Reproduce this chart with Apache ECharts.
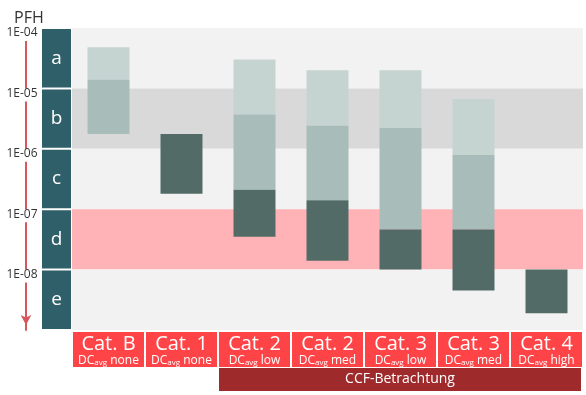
<!DOCTYPE html>
<html><head><meta charset="utf-8">
<script src="https://cdn.jsdelivr.net/npm/echarts@6/dist/echarts.min.js"></script>
<style>html,body{margin:0;padding:0;background:#fff}#c{width:586px;height:395px}</style>
</head><body><div id="c"></div>
<script>
// ---- data ----
const categories = ['Cat. B', 'Cat. 1', 'Cat. 2', 'Cat. 2', 'Cat. 3', 'Cat. 3', 'Cat. 4'];
const dcLevels = ['none', 'none', 'low', 'med', 'low', 'med', 'high'];
// light (upper) segment
const lightHigh = [4.8e-5, null, 3.0e-5, 2.0e-5, 2.0e-5, 6.7e-6, null];
const lightLow  = [1.4e-5, null, 3.7e-6, 2.4e-6, 2.2e-6, 8.0e-7, null];
// middle segment (from lightLow down to midLow)
const midLow    = [1.75e-6, null, 2.1e-7, 1.4e-7, 4.6e-8, 4.6e-8, null];
// dark (lower) segment
const darkHigh  = [null, 1.75e-6, 2.1e-7, 1.4e-7, 4.6e-8, 4.6e-8, 1.0e-8];
const darkLow   = [null, 1.8e-7, 3.5e-8, 1.4e-8, 1.0e-8, 4.5e-9, 1.9e-9];

const bandLetters = ['a', 'b', 'c', 'd', 'e'];
const bandHigh = [1e-4, 1e-5, 1e-6, 1e-7, 1e-8];
const bandLow  = [1e-5, 1e-6, 1e-7, 1e-8, 1e-9];
const bandColors = ['#f2f2f2', '#d9d9d9', '#f2f2f2', '#ffb3b6', '#f2f2f2'];

const tickValues = [1e-4, 1e-5, 1e-6, 1e-7, 1e-8];
const tickLabels = ['1E-04', '1E-05', '1E-06', '1E-07', '1E-08'];

const groupLabel = 'CCF-Betrachtung';
const groupStart = 2, groupEnd = 6;

// ---- styles ----
const FONT = '"Open Sans", "DejaVu Sans", sans-serif';
const shadeColors = ['#c5d4d1', '#a8bcb9', '#526b66'];

const segData = [];
categories.forEach((c, i) => {
  if (lightHigh[i] != null) segData.push([i, lightHigh[i], lightLow[i], 0]);
  if (midLow[i] != null) segData.push([i, lightLow[i], midLow[i], 1]);
  if (darkHigh[i] != null) segData.push([i, darkHigh[i], darkLow[i], 2]);
});

const chart = echarts.init(document.getElementById('c'), null, {renderer: 'canvas'});
const yLog = {type: 'log', logBase: 10, min: 1e-9, max: 1e-4};

chart.setOption({
  animation: false,
  title: {text: 'PFH', left: 9, top: 5, textStyle: {fontSize: 16, fontWeight: 'normal', color: '#333', fontFamily: FONT}},
  grid: [
    {left: 42, width: 29, top: 28, bottom: 65},
    {left: 72, right: 3, top: 28, bottom: 65}
  ],
  xAxis: [
    {gridIndex: 0, type: 'value', min: 0, max: 1, show: false},
    {gridIndex: 1, type: 'category', data: categories,
      axisLine: {show: false}, axisTick: {show: false}, splitLine: {show: false},
      axisLabel: {
        interval: 0, margin: 2, width: 71, height: 34, padding: [1, 0, 0, 0],
        backgroundColor: '#ff4447', align: 'center', verticalAlign: 'top',
        formatter: (v, i) => `{big|${v}}\n{dc|DC}{sub|avg}{dc| ${dcLevels[i]}}`,
        rich: {
          big: {fontSize: 20, lineHeight: 22, color: '#fff', fontFamily: FONT, align: 'center'},
          dc: {fontSize: 12, lineHeight: 12, color: '#fff', fontFamily: FONT},
          sub: {fontSize: 8, lineHeight: 8, color: '#fff', fontFamily: FONT, verticalAlign: 'bottom'}
        }
      }
    }
  ],
  yAxis: [
    Object.assign({gridIndex: 0, offset: 16,
      axisLine: {show: true, onZero: false, symbol: ['arrow', 'none'], symbolSize: [8, 10], symbolOffset: [5, 0],
        lineStyle: {color: '#d6585c', width: 2}},
      axisTick: {show: false}, splitLine: {show: false},
      axisLabel: {
        showMinLabel: false, margin: 4, align: 'center', verticalAlign: 'top',
        lineHeight: 10, padding: [0, 2, 3, 2], backgroundColor: '#fff',
        fontSize: 12, color: '#333', fontFamily: FONT,
        formatter: v => {
          const k = tickValues.findIndex(t => Math.abs(Math.log10(t) - Math.log10(v)) < 1e-6);
          return k >= 0 ? tickLabels[k] : '';
        }
      }}, yLog),
    Object.assign({gridIndex: 1, show: false, splitLine: {show: false}}, yLog)
  ],
  series: [
    { // letter boxes
      type: 'custom', xAxisIndex: 0, yAxisIndex: 0, silent: true,
      encode: {x: 0, y: [1, 2]},
      data: bandHigh.map((h, i) => [0.5, h, bandLow[i], i]),
      renderItem: (params, api) => {
        const cs = params.coordSys;
        const p0 = api.coord([0.5, api.value(1)]);
        const p1 = api.coord([0.5, api.value(2)]);
        const i = api.value(3);
        return {type: 'group', children: [
          {type: 'rect', shape: {x: cs.x, y: p0[1] + 1, width: cs.width, height: p1[1] - p0[1] - 2},
            style: {fill: '#2f5f68'}},
          {type: 'text', x: cs.x + cs.width / 2, y: (p0[1] + p1[1]) / 2,
            style: {text: bandLetters[i], fill: '#fff', font: '19px ' + FONT, align: 'center', verticalAlign: 'middle'}}
        ]};
      }
    },
    { // background bands
      type: 'custom', xAxisIndex: 1, yAxisIndex: 1, silent: true, z: 1,
      encode: {x: 0, y: [1, 2]},
      data: bandHigh.map((h, i) => [0, h, bandLow[i], i]),
      renderItem: (params, api) => {
        const cs = params.coordSys;
        const p0 = api.coord([0, api.value(1)]);
        const p1 = api.coord([0, api.value(2)]);
        return {type: 'rect', shape: {x: cs.x, y: p0[1], width: cs.width, height: p1[1] - p0[1]},
          style: {fill: bandColors[api.value(3)]}};
      }
    },
    { // range bars
      type: 'custom', xAxisIndex: 1, yAxisIndex: 1, z: 3,
      encode: {x: 0, y: [1, 2]},
      data: segData,
      renderItem: (params, api) => {
        const a = api.coord([api.value(0), api.value(1)]);
        const b = api.coord([api.value(0), api.value(2)]);
        const w = api.size([1, 0])[0] * 0.575;
        return {type: 'rect', shape: {x: a[0] - w / 2, y: a[1], width: w, height: b[1] - a[1]},
          style: {fill: shadeColors[api.value(3)]}};
      }
    },
    { // CCF group bar
      type: 'custom', xAxisIndex: 1, yAxisIndex: 1, silent: true, clip: false, z: 3,
      encode: {x: [0, 1], y: 2},
      data: [[groupStart, groupEnd, 1e-9]],
      renderItem: (params, api) => {
        const a = api.coord([api.value(0), api.value(2)]);
        const b = api.coord([api.value(1), api.value(2)]);
        const bw = api.size([1, 0])[0];
        const x0 = a[0] - bw / 2 + 1, x1 = b[0] + bw / 2 - 2;
        const y0 = a[1] + 38;
        return {type: 'group', children: [
          {type: 'rect', shape: {x: x0, y: y0, width: x1 - x0, height: 23}, style: {fill: '#9e2a2b'}},
          {type: 'text', x: (x0 + x1) / 2, y: y0 + 11.5,
            style: {text: groupLabel, fill: '#fff', font: '14px ' + FONT, align: 'center', verticalAlign: 'middle'}}
        ]};
      }
    }
  ]
});
</script>
</body></html>
